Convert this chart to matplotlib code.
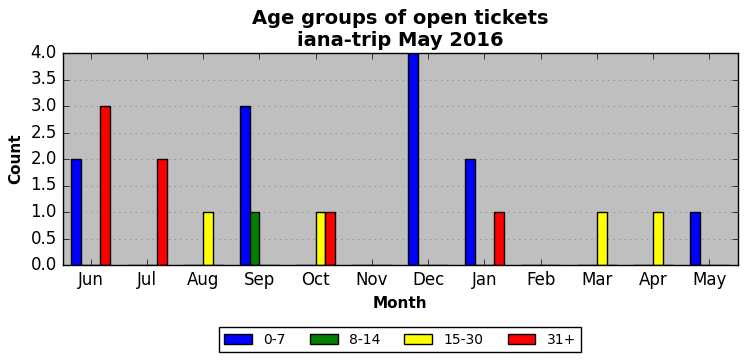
import matplotlib
matplotlib.use("Agg")
import matplotlib.pyplot as plt
import numpy as np

months = ["Jun", "Jul", "Aug", "Sep", "Oct", "Nov", "Dec", "Jan", "Feb", "Mar", "Apr", "May"]
groups = ["0-7", "8-14", "15-30", "31+"]
colors = ["blue", "green", "yellow", "red"]
age_0_7 = [2, 0, 0, 3, 0, 0, 4, 2, 0, 0, 0, 1]
age_8_14 = [0, 0, 0, 1, 0, 0, 0, 0, 0, 0, 0, 0]
age_15_30 = [0, 0, 1, 0, 1, 0, 0, 0, 0, 1, 1, 0]
age_31p = [3, 2, 0, 0, 1, 0, 0, 1, 0, 0, 0, 0]
series = [age_0_7, age_8_14, age_15_30, age_31p]

plt.style.use("classic")
fig = plt.figure(figsize=(7.46, 3.61), dpi=100, facecolor="white")
ax = fig.add_axes([62.5 / 746, 1 - 265 / 361, 675 / 746, 212 / 361])
ax.set_facecolor("#bfbfbf")

x = np.arange(len(months))
w = 0.175
for i, (vals, lab, col) in enumerate(zip(series, groups, colors)):
    ax.bar(x + (i - 1.5) * w, vals, w, color=col, edgecolor="black",
           linewidth=1, label=lab, align="center")

ax.set_xlim(-0.5, len(months) - 0.5)
ax.set_ylim(0, 4)
ax.set_yticks(np.arange(0, 4.01, 0.5))
ax.set_xticks(x)
ax.set_xticklabels(months)
ax.yaxis.grid(True, linestyle=":", color="gray")
ax.set_axisbelow(True)
ax.set_title("Age groups of open tickets\niana-trip May 2016", fontsize=14,
             fontweight="bold")
ax.set_xlabel("Month", fontsize=11, fontweight="bold")
ax.set_ylabel("Count", fontsize=11, fontweight="bold")
ax.legend(loc="upper center", bbox_to_anchor=(0.5, -0.26), ncol=4,
          fontsize=10, fancybox=False, frameon=True, columnspacing=1.75)

fig.savefig("out.png", dpi=100, facecolor="white")
